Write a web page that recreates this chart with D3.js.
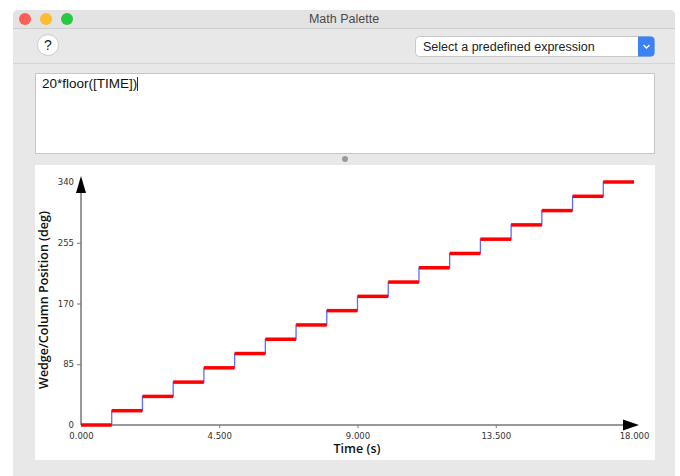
<!DOCTYPE html>
<html>
<head>
<meta charset="utf-8">
<script src="https://cdn.jsdelivr.net/npm/d3@7"></script>
<style>
body { margin: 0; background: #fff; }
svg { display: block; }
</style>
</head>
<body>
<svg width="680" height="476"></svg>
<script>
// step data: 20*floor(TIME)
const stepStarts = [0, 1, 2, 3, 4, 5, 6, 7, 8, 9, 10, 11, 12, 13, 14, 15, 16, 17];
const stepValues = [0, 20, 40, 60, 80, 100, 120, 140, 160, 180, 200, 220, 240, 260, 280, 300, 320, 340];
const endTime = 18;
const xTicks = [0, 4.5, 9, 13.5, 18];
const yTicks = [0, 85, 170, 255, 340];

const svg = d3.select("svg");
const ui = "'Liberation Sans', Arial, sans-serif";

// window chrome
svg.append("rect").attr("x", 13).attr("y", 10).attr("width", 662).attr("height", 480)
	.attr("rx", 5).attr("fill", "#e8e8e8");
svg.append("rect").attr("x", 13).attr("y", 10).attr("width", 662).attr("height", 18)
	.attr("rx", 5).attr("fill", "#e3e3e3");
svg.append("rect").attr("x", 13).attr("y", 22).attr("width", 662).attr("height", 6).attr("fill", "#e3e3e3");
svg.append("line").attr("x1", 13).attr("x2", 675).attr("y1", 28.5).attr("y2", 28.5).attr("stroke", "#cfcfcf");

[["#fc5f57", 25], ["#fdbc2e", 46], ["#29c840", 67]].forEach(([c, cx]) => {
	svg.append("circle").attr("cx", cx).attr("cy", 19).attr("r", 6).attr("fill", c);
});
svg.append("text").attr("x", 344).attr("y", 23).attr("text-anchor", "middle")
	.attr("font-family", ui).attr("font-size", 12.5).attr("fill", "#4a4a4a").text("Math Palette");

// help button
svg.append("circle").attr("cx", 48).attr("cy", 45).attr("r", 10.5).attr("fill", "#fff")
	.attr("stroke", "#c4c4c4").attr("stroke-width", 0.8);
svg.append("text").attr("x", 48).attr("y", 50).attr("text-anchor", "middle")
	.attr("font-family", ui).attr("font-size", 14).attr("fill", "#222").text("?");

// dropdown
svg.append("rect").attr("x", 415.5).attr("y", 36.5).attr("width", 239).attr("height", 20)
	.attr("rx", 4).attr("fill", "#fff").attr("stroke", "#c8c8c8");
svg.append("path").attr("d", "M638,36.5 h12.5 a4,4 0 0 1 4,4 v12 a4,4 0 0 1 -4,4 h-12.5 z")
	.attr("fill", "#3b82f6");
svg.append("path").attr("d", "M643.5,45 l3,3 l3,-3").attr("fill", "none")
	.attr("stroke", "#fff").attr("stroke-width", 1.4);
svg.append("text").attr("x", 423).attr("y", 51).attr("font-family", ui).attr("font-size", 12.5)
	.attr("fill", "#222").text("Select a predefined expression");

svg.append("line").attr("x1", 13).attr("x2", 675).attr("y1", 63.5).attr("y2", 63.5).attr("stroke", "#d4d4d4");

// expression box
svg.append("rect").attr("x", 35.5).attr("y", 73.5).attr("width", 619).attr("height", 80)
	.attr("fill", "#fff").attr("stroke", "#c6c6c6");
svg.append("text").attr("x", 42).attr("y", 88).attr("font-family", ui).attr("font-size", 13.5)
	.attr("fill", "#111").text("20*floor([TIME])");
svg.append("line").attr("x1", 137.5).attr("x2", 137.5).attr("y1", 77).attr("y2", 91).attr("stroke", "#333");

// splitter
svg.append("circle").attr("cx", 345).attr("cy", 159).attr("r", 3).attr("fill", "#999");

// chart panel
svg.append("rect").attr("x", 35).attr("y", 165).attr("width", 620).attr("height", 295).attr("fill", "#fff");

const x = d3.scaleLinear().domain([0, 18]).range([81, 634]);
const y = d3.scaleLinear().domain([0, 340]).range([425, 182]);
const tickFont = "'DejaVu Sans', sans-serif";

// axis lines and arrows
svg.append("line").attr("x1", x(0)).attr("x2", x(0)).attr("y1", y(0)).attr("y2", 190)
	.attr("stroke", "#999").attr("stroke-width", 2);
svg.append("line").attr("x1", x(0)).attr("x2", 625).attr("y1", y(0)).attr("y2", y(0))
	.attr("stroke", "#999").attr("stroke-width", 2);
svg.append("path").attr("d", `M${x(0)},176 L${x(0) + 5},193 L${x(0) - 5},193 Z`).attr("fill", "#000");
svg.append("path").attr("d", `M639,${y(0)} L623,${y(0) - 5.5} L623,${y(0) + 5.5} Z`).attr("fill", "#000");

// y ticks
const yAxis = svg.append("g").attr("transform", `translate(${x(0)},0)`)
	.call(d3.axisLeft(y).tickValues(yTicks).tickSize(4).tickPadding(3).tickFormat(d3.format("d")));
yAxis.select(".domain").remove();
yAxis.selectAll("line").attr("stroke", "#777");
yAxis.selectAll("text").attr("font-family", tickFont).attr("font-size", 8.5).attr("fill", "#333");
yAxis.selectAll(".tick").filter(d => d === 0 || d === 340).select("line").remove();

// x ticks
const xAxis = svg.append("g").attr("transform", `translate(0,${y(0)})`)
	.call(d3.axisBottom(x).tickValues(xTicks).tickSize(3).tickPadding(5).tickFormat(d3.format(".3f")));
xAxis.select(".domain").remove();
xAxis.selectAll("line").attr("stroke", "#777");
xAxis.selectAll("text").attr("font-family", tickFont).attr("font-size", 8.5).attr("fill", "#333");
xAxis.selectAll(".tick").filter(d => d === 0 || d === 18).select("line").remove();

// axis titles
svg.append("text").attr("x", 357).attr("y", 453).attr("text-anchor", "middle")
	.attr("font-family", "'Open Sans', sans-serif").attr("font-weight", 600).attr("font-size", 12.5)
	.attr("fill", "#111").text("Time (s)");
svg.append("text").attr("transform", "translate(48,300) rotate(-90)").attr("text-anchor", "middle")
	.attr("font-family", "'Open Sans', sans-serif").attr("font-weight", 600).attr("font-size", 12.5)
	.attr("fill", "#111").text("Wedge/Column Position (deg)");

// step line
const pts = stepStarts.map((t, i) => [t, stepValues[i]]);
pts.push([endTime, stepValues[stepValues.length - 1]]);

svg.append("path").datum(pts)
	.attr("fill", "none").attr("stroke", "#5b6dff").attr("stroke-width", 1.3)
	.attr("d", d3.line().x(d => x(d[0])).y(d => y(d[1])).curve(d3.curveStepAfter));

svg.append("g").selectAll("line")
	.data(stepStarts)
	.join("line")
	.attr("x1", d => x(d))
	.attr("x2", (d, i) => x(i < stepStarts.length - 1 ? stepStarts[i + 1] : endTime))
	.attr("y1", (d, i) => y(stepValues[i]))
	.attr("y2", (d, i) => y(stepValues[i]))
	.attr("stroke", "#ff0000").attr("stroke-width", 3.5);
</script>
</body>
</html>
